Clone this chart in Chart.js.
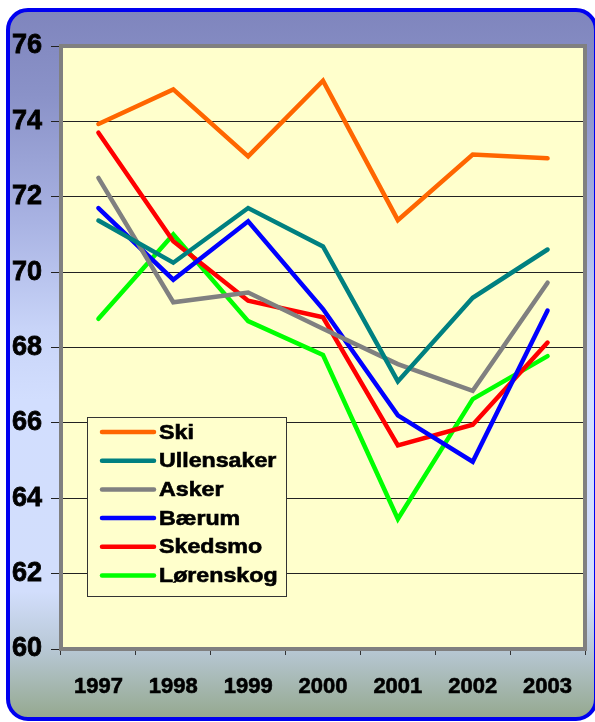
<!DOCTYPE html>
<html>
<head>
<meta charset="utf-8">
<script src="https://cdn.jsdelivr.net/npm/chart.js@4/dist/chart.umd.min.js"></script>
<style>
html,body{margin:0;padding:0;background:#ffffff;}
#wrap{position:relative;width:595px;height:722px;}
</style>
</head>
<body>
<div id="wrap"><canvas id="c" width="595" height="722"></canvas></div>
<script>
const years = ['1997','1998','1999','2000','2001','2002','2003'];
const seriesNames = ['Ski','Ullensaker','Asker','Bærum','Skedsmo','Lørenskog'];
const ski        = [73.93, 74.85, 73.07, 75.08, 71.38, 73.12, 73.02];
const ullensaker = [71.37, 70.25, 71.70, 70.68, 67.10, 69.32, 70.60];
const asker      = [72.50, 69.20, 69.46, 68.50, 67.56, 66.85, 69.72];
const baerum     = [71.70, 69.80, 71.35, 69.02, 66.20, 64.97, 68.98];
const skedsmo    = [73.70, 70.82, 69.24, 68.80, 65.40, 65.95, 68.13];
const lorenskog  = [68.76, 71.00, 68.70, 67.80, 63.45, 66.63, 67.77];
const yTicks = [60, 62, 64, 66, 68, 70, 72, 74, 76];
const colors = ['#FF6600','#008080','#808080','#0000FF','#FF0000','#00FF00'];

const allSeries = [ski, ullensaker, asker, baerum, skedsmo, lorenskog];

const framePlugin = {
  id: 'frame',
  beforeDraw(chart) {
    const ctx = chart.ctx;
    const a = chart.chartArea;
    ctx.save();
    const x = 8, y = 10, w = 588, h = 709, r = 20;
    const g = ctx.createLinearGradient(0, y, 0, y + h);
    g.addColorStop(0, '#7f85bd');
    g.addColorStop(0.12, '#8a92c8');
    g.addColorStop(0.30, '#a9b3e3');
    g.addColorStop(0.45, '#c8d4f8');
    g.addColorStop(0.55, '#d2defe');
    g.addColorStop(0.82, '#d2defc');
    g.addColorStop(0.90, '#b8c8d6');
    g.addColorStop(1, '#94a88e');
    ctx.beginPath();
    ctx.roundRect(x, y, w, h, r);
    ctx.fillStyle = g;
    ctx.fill();
    ctx.lineWidth = 4;
    ctx.strokeStyle = '#0000F0';
    ctx.stroke();
    ctx.fillStyle = '#FFFFCC';
    ctx.fillRect(a.left, a.top, a.right - a.left, a.bottom - a.top);
    ctx.restore();
  },
  beforeDatasetsDraw(chart) {
    const ctx = chart.ctx;
    const a = chart.chartArea;
    ctx.save();
    ctx.strokeStyle = '#808080';
    ctx.lineWidth = 4;
    ctx.strokeRect(a.left, a.top, a.right - a.left, a.bottom - a.top);
    ctx.restore();
  },
  afterDraw(chart) {
    const ctx = chart.ctx;
    ctx.save();
    const bx = 87, by = 417, bw = 199, bh = 179;
    ctx.fillStyle = '#FFFFCC';
    ctx.fillRect(bx, by, bw, bh);
    ctx.strokeStyle = '#333333';
    ctx.lineWidth = 1;
    ctx.strokeRect(bx + 0.5, by + 0.5, bw, bh);
    const rowH = 28.7;
    chart.data.datasets.forEach((ds, i) => {
      const cy = 432 + i * rowH;
      ctx.strokeStyle = ds.borderColor;
      ctx.lineWidth = 4.5;
      ctx.lineCap = 'round';
      ctx.beginPath();
      ctx.moveTo(102, cy);
      ctx.lineTo(154, cy);
      ctx.stroke();
      ctx.save();
      ctx.translate(159, cy);
      ctx.scale(1.16, 1);
      ctx.fillStyle = '#000000';
      ctx.strokeStyle = '#000000';
      ctx.lineWidth = 0.6;
      ctx.font = 'bold 20px "Liberation Sans", Arial, sans-serif';
      ctx.textBaseline = 'middle';
      ctx.textAlign = 'left';
      ctx.fillText(ds.label, 0, 1);
      ctx.strokeText(ds.label, 0, 1);
      ctx.restore();
    });
    ctx.restore();
  }
};

const datasets = seriesNames.map((name, i) => ({
  label: name,
  data: allSeries[i],
  borderColor: colors[i],
  backgroundColor: colors[i],
  borderWidth: 4.5,
  pointRadius: 0,
  pointHoverRadius: 0,
  tension: 0,
  fill: false,
  borderCapStyle: 'round',
  borderJoinStyle: 'miter'
}));

new Chart(document.getElementById('c'), {
  type: 'line',
  data: { labels: years, datasets: datasets },
  plugins: [framePlugin],
  options: {
    responsive: false,
    devicePixelRatio: 1,
    animation: false,
    events: [],
    layout: { padding: { top: 46, right: 10, left: 0, bottom: 0 } },
    plugins: { legend: { display: false }, tooltip: { enabled: false } },
    scales: {
      x: {
        offset: true,
        grid: { offset: true, drawOnChartArea: false, drawTicks: true, tickLength: 6, color: '#333333', lineWidth: 1 },
        border: { display: false },
        ticks: {
          color: '#000000',
          textStrokeColor: '#000000',
          textStrokeWidth: 0.6,
          padding: 19,
          maxRotation: 0,
          font: { family: '"Liberation Sans", Arial, sans-serif', size: 22, weight: 'bold' }
        },
        afterFit(s) { s.height = 73; }
      },
      y: {
        min: 60,
        max: 76,
        afterBuildTicks(s) { s.ticks = yTicks.map(v => ({ value: v })); },
        grid: { drawTicks: true, tickLength: 10, color: '#222222', lineWidth: 1 },
        border: { display: false },
        ticks: {
          color: '#000000',
          textStrokeColor: '#000000',
          textStrokeWidth: 0.8,
          padding: 9,
          font: { family: '"Liberation Sans", Arial, sans-serif', size: 27, weight: 'bold' }
        },
        afterFit(s) { s.width = 61; }
      }
    }
  }
});
</script>
</body>
</html>
